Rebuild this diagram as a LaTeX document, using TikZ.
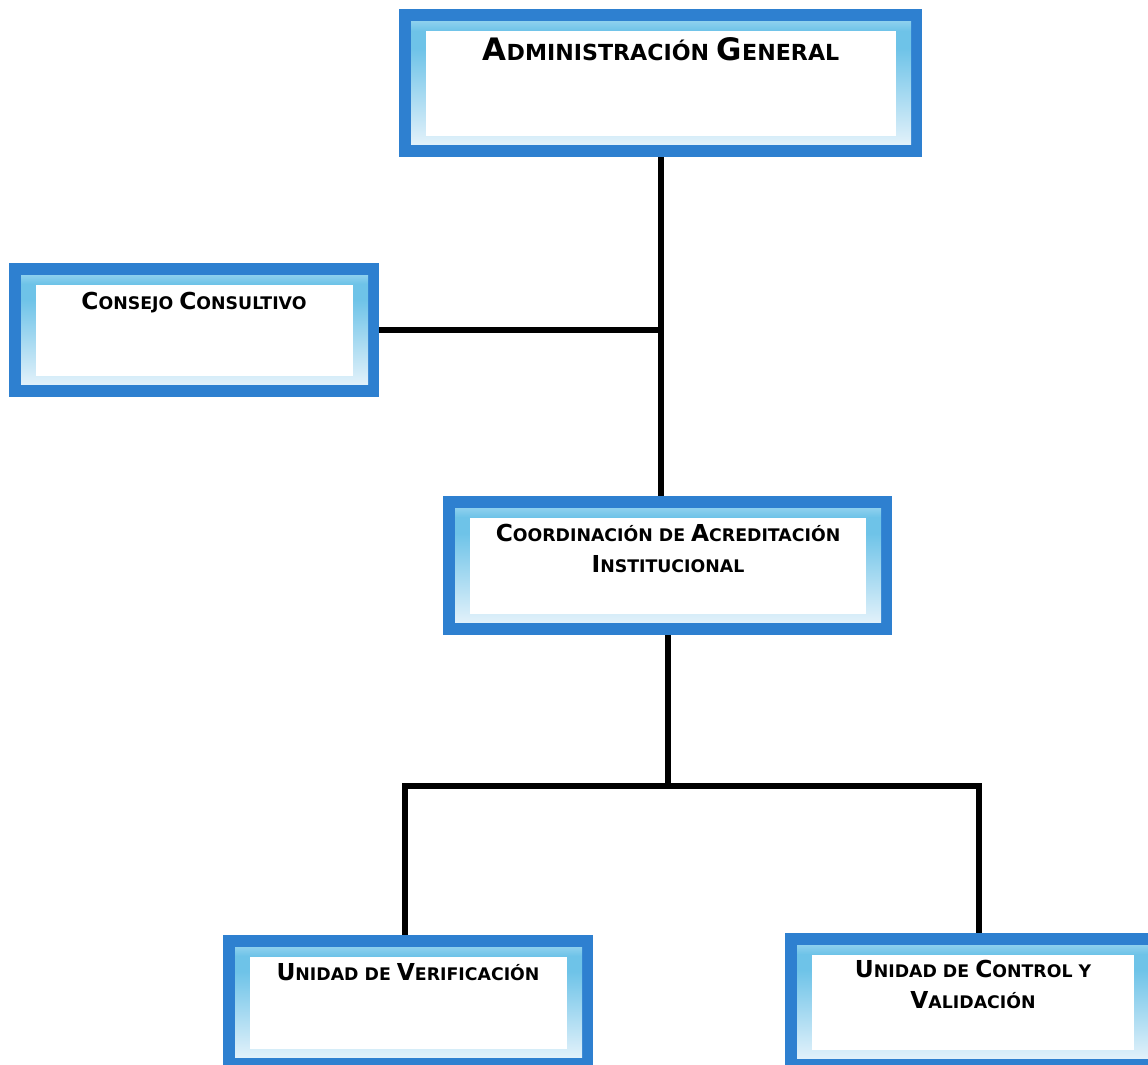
\documentclass[tikz,border=0pt]{standalone}
\usepackage{fontspec}
\newfontfamily\orgfont{DejaVu Sans Bold}
\definecolor{frameblue}{RGB}{46,128,208}
\definecolor{bandtop}{RGB}{142,208,238}
\definecolor{bandpeak}{RGB}{110,195,232}
\definecolor{bandlow}{RGB}{225,241,250}
\pgfdeclareverticalshading{orgshade}{100bp}{color(0bp)=(bandlow); color(25bp)=(bandlow); color(64bp)=(bandpeak); color(71bp)=(bandpeak); color(75bp)=(bandtop); color(100bp)=(bandtop)}
\newcommand\bc[1]{{\fontsize{\bcsz}{0}\selectfont#1}}
\begin{document}
\begin{tikzpicture}[x=0.75pt, y=-0.75pt, line join=miter,
	orgframe/.style={fill=frameblue, inner sep=0pt},
	orgband/.style={shading=orgshade},
	orglink/.style={line width=4.5pt, black},
	orgtext/.style={font=\orgfont\def\bcsz{17.5}\fontsize{13}{23.25}\selectfont, align=center, anchor=base, inner sep=0pt},
	orghead/.style={orgtext, font=\orgfont\def\bcsz{23.2}\fontsize{16.6}{23.25}\selectfont}]
	\useasboundingbox (0,0) rectangle (1148,1064);
	\clip (0,0) rectangle (1148,1064);
	\foreach \n/\xa/\ya/\xb/\yb in {admin/399/9/922/157, consejo/9/263/379/397, coord/443/496/892/635, verif/223/935/593/1070, control/785/933/1160/1071}{
		\node[orgframe, minimum width={(\xb-\xa)*0.75pt}, minimum height={(\yb-\ya)*0.75pt}] (\n) at ({(\xa+\xb)/2},{(\ya+\yb)/2}) {};
		\shade[orgband] (\xa+12,\ya+12) rectangle (\xb-11,\yb-13);
		\fill[white] (\xa+27,\ya+22) rectangle (\xb-26,\yb-21);
	}
	% base anchor of a two-line node is its last line
	\node[orghead] (admin-t) at (661,60) {\bc{A}DMINISTRACIÓN \bc{G}ENERAL};
	\node[orgtext] (consejo-t) at (194,309) {\bc{C}ONSEJO \bc{C}ONSULTIVO};
	\node[orgtext] (coord-t) at (668,572) {\bc{C}OORDINACIÓN DE \bc{A}CREDITACIÓN\\\bc{I}NSTITUCIONAL};
	\node[orgtext] (verif-t) at (408,980) {\bc{U}NIDAD DE \bc{V}ERIFICACIÓN};
	\node[orgtext] (control-t) at (973,1008) {\bc{U}NIDAD DE \bc{C}ONTROL Y\\\bc{V}ALIDACIÓN};
	\coordinate (busl) at (405,785.5); \coordinate (busr) at (979,785.5);
	\draw[orglink] (admin.south) -- (admin.south |- coord.north);
	\draw[orglink] (consejo.east) -- (consejo.east -| admin.south);
	\draw[orglink] (coord.south) -- (coord.south |- busl);
	\draw[orglink] (verif.north -| busl) -- (busl) -- (busr) -- (control.north -| busr);
\end{tikzpicture}
\end{document}
